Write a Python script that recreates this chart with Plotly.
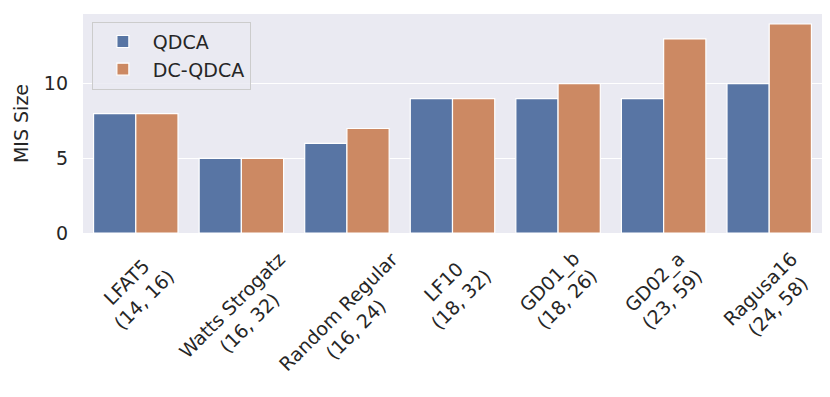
import plotly.graph_objects as go

categories = ["LFAT5", "Watts Strogatz", "Random Regular", "LF10", "GD01_b", "GD02_a", "Ragusa16"]
sizes = ["(14, 16)", "(16, 32)", "(16, 24)", "(18, 32)", "(18, 26)", "(23, 59)", "(24, 58)"]
qdca = [8, 5, 6, 9, 9, 9, 10]
dc_qdca = [8, 5, 7, 9, 10, 13, 14]
y_ticks = [0, 5, 10]

FONT = "DejaVu Sans"
TXT = "#262626"
FS = 19

fig = go.Figure()
fig.add_trace(go.Bar(x=categories, y=qdca, name="QDCA",
                     marker=dict(color="#5875A4", line=dict(color="white", width=1.2))))
fig.add_trace(go.Bar(x=categories, y=dc_qdca, name="DC-QDCA",
                     marker=dict(color="#CC8963", line=dict(color="white", width=1.2))))

for c, s in zip(categories, sizes):
    fig.add_annotation(x=c, xref="x", y=0, yref="paper", yanchor="top", xanchor="center",
                       yshift=-12, text=f"{c}<br>{s}", textangle=-45, showarrow=False,
                       align="center", font=dict(family=FONT, size=FS, color=TXT))

fig.update_layout(
    width=830, height=397,
    margin=dict(l=83, r=8, t=14, b=164),
    paper_bgcolor="white", plot_bgcolor="#EAEAF2",
    barmode="group", bargap=0.2, bargroupgap=0,
    font=dict(family=FONT, size=FS, color=TXT),
    showlegend=True,
    legend=dict(x=0.012, y=0.965, xanchor="left", yanchor="top",
                bgcolor="rgba(234,234,242,0.85)", bordercolor="#CCCCCC", borderwidth=1,
                font=dict(family=FONT, size=FS, color=TXT), itemwidth=50,
                tracegroupgap=0),
    xaxis=dict(range=[-0.5, 6.5], showticklabels=False, showgrid=False, zeroline=False,
               ticks="", automargin=False),
    yaxis=dict(range=[0, 14.67], tickvals=y_ticks, showgrid=True, gridcolor="white",
               gridwidth=1.2, zeroline=False, ticks="", ticklabelstandoff=14, automargin=False,
               tickfont=dict(family=FONT, size=FS, color=TXT),
               title=dict(text="MIS Size", font=dict(family=FONT, size=FS, color=TXT), standoff=10)),
)

fig.write_html("out.html", config={"displayModeBar": False},
               post_script="document.body.style.margin='0';document.body.style.overflow='hidden';")
